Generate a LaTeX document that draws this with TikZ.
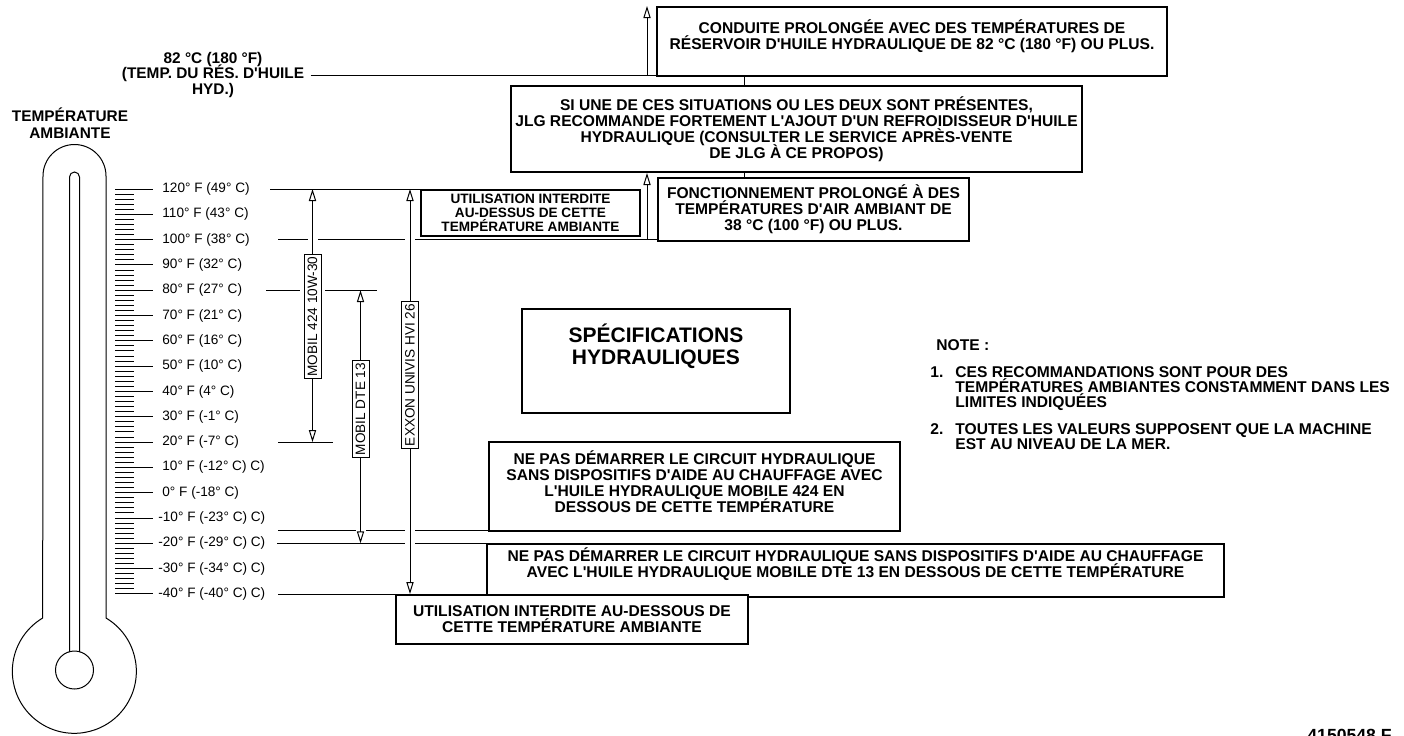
\documentclass[tikz,border=0pt]{standalone}
\usepackage{fontspec}
\setmainfont{Liberation Sans}
\usetikzlibrary{arrows.meta, positioning}

\newcommand{\warnfont}{\lineskiplimit=-5pt\relax\bfseries\fontsize{7.8}{8}\selectfont}
\newcommand{\smallwarnfont}{\lineskiplimit=-5pt\relax\bfseries\fontsize{6.8}{6.9}\selectfont}
\newcommand{\resfont}{\lineskiplimit=-5pt\relax\bfseries\fontsize{7.7}{7.6}\selectfont}
\newcommand{\notesfont}{\lineskiplimit=-5pt\relax\bfseries\fontsize{7.8}{7.5}\selectfont}
\newcommand{\lblfont}{\fontsize{6.8}{7.5}\selectfont}
\newcommand{\apos}{\textquotesingle}

\tikzset{
  % Framed warning and advice boxes
  warnbox/.style={
    draw, line width=1pt, fill=white, align=center,
    inner sep=0pt, anchor=north west, font=\warnfont,
  },
  % Oil grade tags sitting on the range arrows
  oiltag/.style={
    draw, line width=0.5pt, fill=white, rotate=90,
    font=\lblfont, inner xsep=1pt, inner ysep=0pt, minimum height=8.5pt,
    preaction={draw=white, line width=4pt},
  },
  % Temperature level lines
  level/.style={line width=0.5pt},
  % Arrows
  uparr/.style={-{Triangle[open, length=6pt, width=3.6pt]}, line width=0.5pt},
  rangearr/.style={uparr,
    preaction={draw=white, line width=5pt, -, shorten >=3pt, shorten <=1pt}},
  % Labels
  scalelbl/.style={anchor=west, inner sep=0pt, font=\lblfont},
  plainlbl/.style={inner sep=0pt, align=center, font=\warnfont},
  notetext/.style={inner sep=0pt, align=left, font=\notesfont},
}

\begin{document}
\begin{tikzpicture}[x=0.5pt, y=-0.5pt]
  \useasboundingbox (0,0) rectangle (1404,735);

  % thermometer
  \draw[line width=0.5pt] (43,176) arc[start angle=180, end angle=360, radius=31.5]
    -- (106,618) arc[start angle=-59.3, end angle=239.3, radius=62] -- cycle;
  \draw[line width=0.5pt] (69.5,652) -- (69.5,177)
    arc[start angle=180, end angle=360, radius=5] -- (79.5,652);
  \draw[line width=0.5pt] (74.5,670) circle[radius=19];
  \node[plainlbl, font=\bfseries\fontsize{7.7}{8.5}\selectfont] (ambtitle) at (70,123)
    {TEMPÉRATURE\\AMBIANTE};

  % scale: one tick per 2 degrees F, long ticks every 10
  \foreach \t in {-40,-38,...,120}
    \draw[line width=0.5pt] (115,{189+(120-\t)*2.531}) -- ++(19,0);
  \foreach \t in {-40,-30,...,120}
    \draw[line width=0.5pt] (134,{189+(120-\t)*2.531}) -- ++(19,0);
  \foreach \t/\lx/\txt in {
      120/162/{120° F (49° C)}, 110/162/{110° F (43° C)},
      100/162/{100° F (38° C)}, 90/162/{90° F (32° C)},
      80/162/{80° F (27° C)}, 70/162/{70° F (21° C)},
      60/162/{60° F (16° C)}, 50/162/{50° F (10° C)},
      40/162/{40° F (4° C)}, 30/162/{30° F (-1° C)},
      20/162/{20° F (-7° C)}, 10/162/{10° F (-12° C) C)},
      0/162/{0° F (-18° C)}, -10/158/{-10° F (-23° C) C)},
      -20/158/{-20° F (-29° C) C)}, -30/158/{-30° F (-34° C) C)},
      -40/158/{-40° F (-40° C) C)}}
    \node[scalelbl] (lbl\t) at (\lx,{189+(120-\t)*2.531}) {\txt};

  % level line start points
  \coordinate (s120) at (270,189);
  \coordinate (s100) at (278,239.6);
  \coordinate (s80)  at (266,290.2);
  \coordinate (e80)  at (377,290.2);
  \coordinate (s20)  at (278,442.1);
  \coordinate (e20)  at (333,442.1);
  \coordinate (sm15) at (278,530.7);
  \coordinate (sm20) at (277,543.3);
  \coordinate (sm40) at (278,594);

  % boxes
  \node[warnbox, minimum width=255pt, minimum height=34.5pt] (conduite) at (656,6)
    {CONDUITE PROLONGÉE AVEC DES TEMPÉRATURES DE\\
     RÉSERVOIR D\apos HUILE HYDRAULIQUE DE 82 °C (180 °F) OU PLUS.\\[-1pt]\mbox{}};
  \node[warnbox, minimum width=285.5pt, minimum height=43pt] (refroid) at (510,85)
    {SI UNE DE CES SITUATIONS OU LES DEUX SONT PRÉSENTES,\\
     JLG RECOMMANDE FORTEMENT L\apos AJOUT D\apos UN REFROIDISSEUR D\apos HUILE\\
     HYDRAULIQUE (CONSULTER LE SERVICE APRÈS-VENTE\\
     DE JLG À CE PROPOS)};
  \node[warnbox, minimum width=155.5pt, minimum height=31.3pt] (fonct) at (657,177)
    {FONCTIONNEMENT PROLONGÉ À DES\\
     TEMPÉRATURES D\apos AIR AMBIANT DE\\
     38 °C (100 °F) OU PLUS.};
  \node[warnbox, font=\smallwarnfont, minimum width=109.5pt, minimum height=23pt]
    (hilimit) at (420,189)
    {UTILISATION INTERDITE\\AU-DESSUS DE CETTE\\TEMPÉRATURE AMBIANTE};
  \node[warnbox, font=\bfseries\fontsize{10.5}{11}\selectfont,
    minimum width=134pt, minimum height=52pt] (spec) at (521,308)
    {SPÉCIFICATIONS\\HYDRAULIQUES\\[5.5pt]\mbox{}};
  \node[warnbox, minimum width=205.5pt, minimum height=44.5pt] (nostart424) at (488,441)
    {NE PAS DÉMARRER LE CIRCUIT HYDRAULIQUE\\
     SANS DISPOSITIFS D\apos AIDE AU CHAUFFAGE AVEC\\
     L\apos HUILE HYDRAULIQUE MOBILE 424 EN\\
     DESSOUS DE CETTE TEMPÉRATURE\\[-3pt]\mbox{}};
  \node[warnbox, minimum width=368.5pt, minimum height=26.5pt] (nostartdte) at (486,543.3)
    {NE PAS DÉMARRER LE CIRCUIT HYDRAULIQUE SANS DISPOSITIFS D\apos AIDE AU CHAUFFAGE\\
     AVEC L\apos HUILE HYDRAULIQUE MOBILE DTE 13 EN DESSOUS DE CETTE TEMPÉRATURE\\[0pt]\mbox{}};
  \node[warnbox, minimum width=176pt, minimum height=24.5pt] (lolimit) at (395,594)
    {UTILISATION INTERDITE AU-DESSOUS DE\\CETTE TEMPÉRATURE AMBIANTE};

  % oil reservoir limit
  \node[plainlbl, font=\resfont] (reslbl) at (213,75)
    {82 °C (180 °F)\\(TEMP. DU RÉS. D\apos HUILE\\HYD.)};
  \draw[level] ([xshift=3pt]reslbl.east) -- (reslbl.east -| conduite.west);

  % level lines
  \draw[level] (s120) -- (s120 -| hilimit.west);
  \draw[level] (s100) -- (s100 -| fonct.west);
  \draw[level] (s80) -- (e80);
  \draw[level] (s20) -- (e20);
  \draw[level] (sm15) -- (sm15 -| nostart424.west);
  \draw[level] (sm20) -- (sm20 -| nostartdte.west);
  \draw[level] (sm40) -- (sm40 -| lolimit.west);

  % oil grade ranges
  \node[oiltag] (mobil424) at (312.5,316.5) {MOBIL 424 10W-30};
  \node[oiltag] (mobildte) at (360.5,409) {MOBIL DTE 13};
  \node[oiltag] (exxon) at (410,375) {EXXON UNIVIS HVI 26};
  \draw[rangearr] (mobil424.east) -- (mobil424.east |- s120);
  \draw[rangearr] (mobil424.west) -- (mobil424.west |- s20);
  \draw[rangearr] (mobildte.east) -- (mobildte.east |- s80);
  \draw[rangearr] (mobildte.west) -- (mobildte.west |- sm20);
  \draw[rangearr] (exxon.east) -- (exxon.east |- s120);
  \draw[rangearr] (exxon.west) -- (exxon.west |- sm40);

  % hot conditions feeding the cooler advice
  \coordinate (hotoil) at (647,75);
  \coordinate (hotair) at (647,239.6);
  \coordinate (link) at (744,0);
  \draw[uparr] (hotoil) -- (hotoil |- conduite.north);
  \draw[uparr] (hotair) -- (hotair |- refroid.south);
  \draw[level] (link |- conduite.south) -- (link |- refroid.north);
  \draw[level] (link |- refroid.south) -- (link |- fonct.north);

  % notes
  \node[notetext, anchor=west] (note) at (936,345) {NOTE :};
  \node[notetext, anchor=north west] (note1) at (930,366)
    {1.\hspace{6pt}CES RECOMMANDATIONS SONT POUR DES\\
     \hphantom{1.}\hspace{6pt}TEMPÉRATURES AMBIANTES CONSTAMMENT DANS LES\\
     \hphantom{1.}\hspace{6pt}LIMITES INDIQUÉES};
  \node[notetext, below=6pt of note1.south west, anchor=north west] (note2)
    {2.\hspace{6pt}TOUTES LES VALEURS SUPPOSENT QUE LA MACHINE\\
     \hphantom{2.}\hspace{6pt}EST AU NIVEAU DE LA MER.};

  \node[plainlbl, font=\bfseries\fontsize{8.8}{8.8}\selectfont, anchor=north east]
    (figno) at (1392,729) {4150548 F};
\end{tikzpicture}
\end{document}
